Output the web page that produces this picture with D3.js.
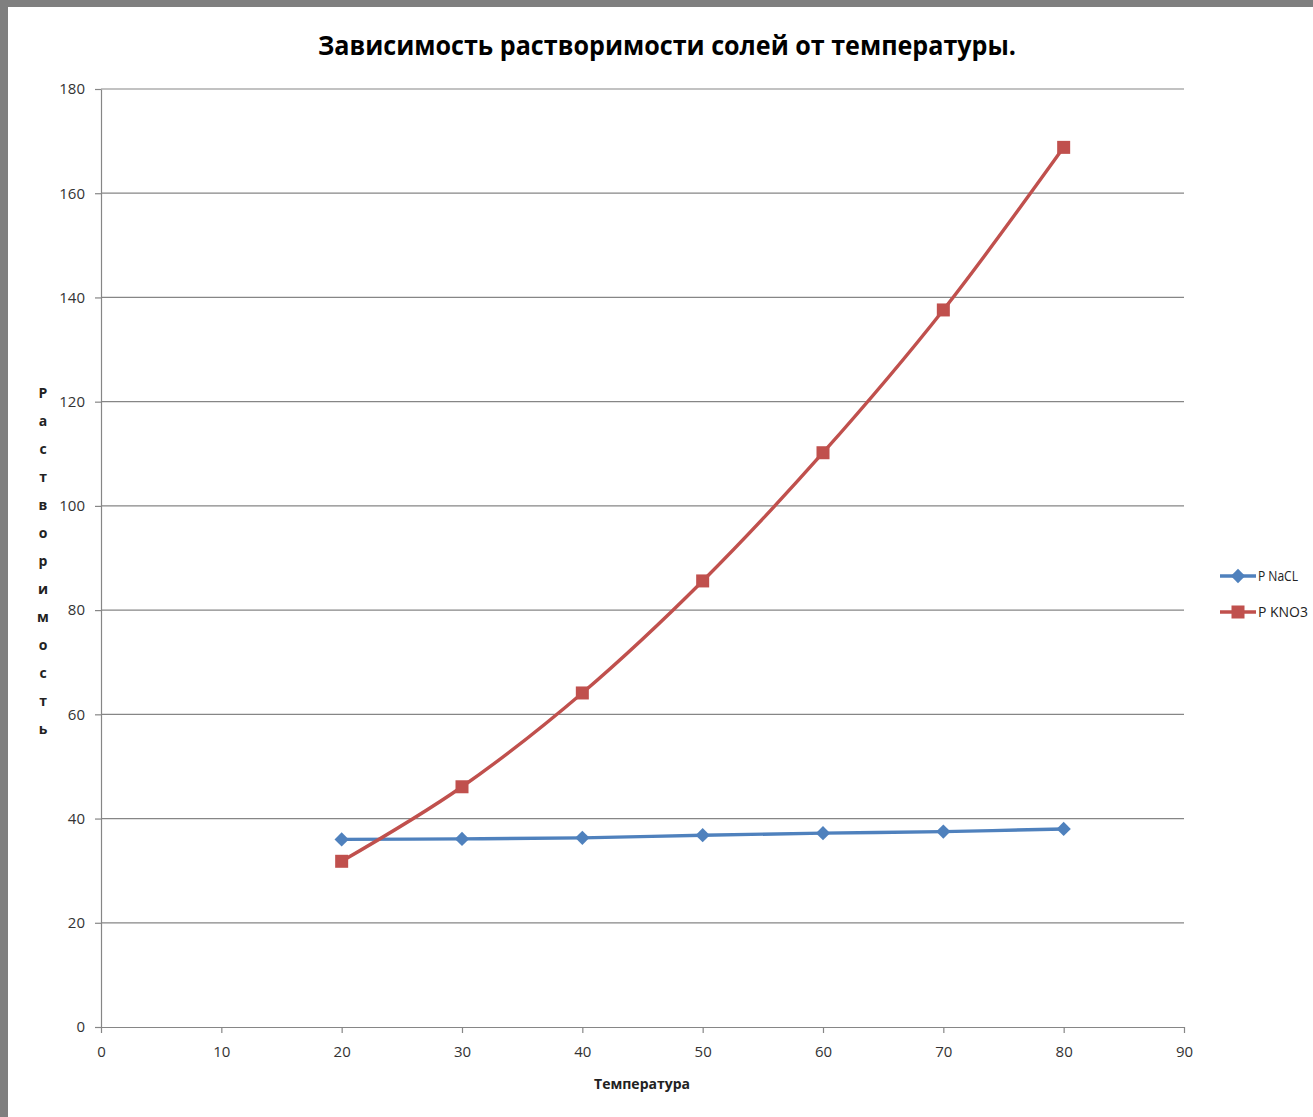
<!DOCTYPE html>
<html>
<head>
<meta charset="utf-8">
<script src="https://cdn.jsdelivr.net/npm/d3@7"></script>
<style>
    body { margin: 0; background: #7f7f7f; }
    svg { display: block; }
    text { font-family: "Open Sans", sans-serif; }
</style>
</head>
<body>
<div id="container"></div>
<script>
// data
const temperatures = [20, 30, 40, 50, 60, 70, 80];
const naclValues = [36, 36.1, 36.3, 36.8, 37.2, 37.5, 38];
const kno3Values = [31.8, 46.1, 64.1, 85.6, 110.2, 137.6, 168.8];
const seriesNames = ['P NaCL', 'P KNO3'];
const xTicks = [0, 10, 20, 30, 40, 50, 60, 70, 80, 90];
const yTicks = [0, 20, 40, 60, 80, 100, 120, 140, 160, 180];
const titleText = 'Зависимость растворимости солей от температуры.';
const xLabel = 'Температура';
const yLabel = 'Растворимость';

const w = 1313;
const h = 1117;
const colors = ['#4f81bd', '#c0504d'];

const svg = d3.select('#container').append('svg')
    .attr('width', w)
    .attr('height', h);

// white page with gray frame on top/left
svg.append('rect')
    .attr('x', 8)
    .attr('y', 7)
    .attr('width', w - 8)
    .attr('height', h - 7)
    .attr('fill', '#fff');

const xScale = d3.scaleLinear().domain([0, 90]).range([101, 1184]);
const yScale = d3.scaleLinear().domain([0, 180]).range([1027, 89]);

// gridlines
svg.append('g')
    .selectAll('line')
    .data(yTicks.filter(d => d > 0))
    .enter()
    .append('line')
    .attr('x1', xScale(0))
    .attr('x2', xScale(90))
    .attr('y1', d => yScale(d))
    .attr('y2', d => yScale(d))
    .attr('stroke', '#868686')
    .attr('stroke-width', 1.2);

const xAxis = d3.axisBottom(xScale)
    .tickValues(xTicks)
    .tickSize(6)
    .tickSizeOuter(0)
    .tickPadding(13);

const yAxis = d3.axisLeft(yScale)
    .tickValues(yTicks)
    .tickSize(6)
    .tickSizeOuter(0)
    .tickPadding(10);

const gx = svg.append('g')
    .attr('transform', 'translate(0,' + yScale(0) + ')')
    .call(xAxis);

const gy = svg.append('g')
    .attr('transform', 'translate(' + xScale(0) + ',0)')
    .call(yAxis);

[gx, gy].forEach(g => {
    g.selectAll('path, line').attr('stroke', '#868686').attr('stroke-width', 1.2);
    g.selectAll('text')
        .attr('fill', '#333')
        .style('font-size', '15px')
        .style('font-family', '"Open Sans", sans-serif');
});

// series
const series = [naclValues, kno3Values].map((vals, i) => ({
    name: seriesNames[i],
    color: colors[i],
    points: temperatures.map((t, j) => ({ t: t, v: vals[j] }))
}));

const line = d3.line()
    .x(d => xScale(d.t))
    .y(d => yScale(d.v))
    .curve(d3.curveCatmullRom.alpha(0));

svg.append('g')
    .selectAll('path')
    .data(series)
    .enter()
    .append('path')
    .attr('d', d => line(d.points))
    .attr('fill', 'none')
    .attr('stroke', d => d.color)
    .attr('stroke-width', 3.4);

const diamond = d3.symbol().type(d3.symbolDiamond2).size(130);

svg.append('g')
    .selectAll('path')
    .data(series[0].points)
    .enter()
    .append('path')
    .attr('d', diamond)
    .attr('transform', d => 'translate(' + xScale(d.t) + ',' + yScale(d.v) + ')')
    .attr('fill', colors[0]);

svg.append('g')
    .selectAll('rect')
    .data(series[1].points)
    .enter()
    .append('rect')
    .attr('x', d => xScale(d.t) - 6.5)
    .attr('y', d => yScale(d.v) - 6.5)
    .attr('width', 13)
    .attr('height', 13)
    .attr('fill', colors[1]);

// title
svg.append('text')
    .attr('x', 667)
    .attr('y', 55)
    .attr('text-anchor', 'middle')
    .attr('textLength', 698)
    .attr('lengthAdjust', 'spacingAndGlyphs')
    .style('font-size', '26px')
    .style('font-weight', 'bold')
    .attr('fill', '#000')
    .text(titleText);

// x label
svg.append('text')
    .attr('x', 642)
    .attr('y', 1089)
    .attr('text-anchor', 'middle')
    .style('font-size', '14px')
    .style('font-weight', 'bold')
    .attr('fill', '#222')
    .text(xLabel);

// y label, one letter per line
svg.append('g')
    .selectAll('text')
    .data(yLabel.split(''))
    .enter()
    .append('text')
    .attr('x', 43)
    .attr('y', (d, i) => 398 + i * 28)
    .attr('text-anchor', 'middle')
    .style('font-size', '14px')
    .style('font-weight', 'bold')
    .attr('fill', '#222')
    .text(d => d);

// legend
const legend = svg.append('g')
    .selectAll('g')
    .data(series)
    .enter()
    .append('g')
    .attr('transform', (d, i) => 'translate(1220,' + (576 + i * 36) + ')');

legend.append('line')
    .attr('x1', 0)
    .attr('x2', 36)
    .attr('stroke', d => d.color)
    .attr('stroke-width', 3.4);

legend.filter((d, i) => i === 0)
    .append('path')
    .attr('d', diamond)
    .attr('transform', 'translate(18,0)')
    .attr('fill', colors[0]);

legend.filter((d, i) => i === 1)
    .append('rect')
    .attr('x', 11.5)
    .attr('y', -6.5)
    .attr('width', 13)
    .attr('height', 13)
    .attr('fill', colors[1]);

legend.append('text')
    .attr('x', 38)
    .attr('y', 5)
    .attr('textLength', d => d.name === 'P NaCL' ? 40 : 50)
    .attr('lengthAdjust', 'spacingAndGlyphs')
    .style('font-size', '14px')
    .attr('fill', '#222')
    .text(d => d.name);
</script>
</body>
</html>
